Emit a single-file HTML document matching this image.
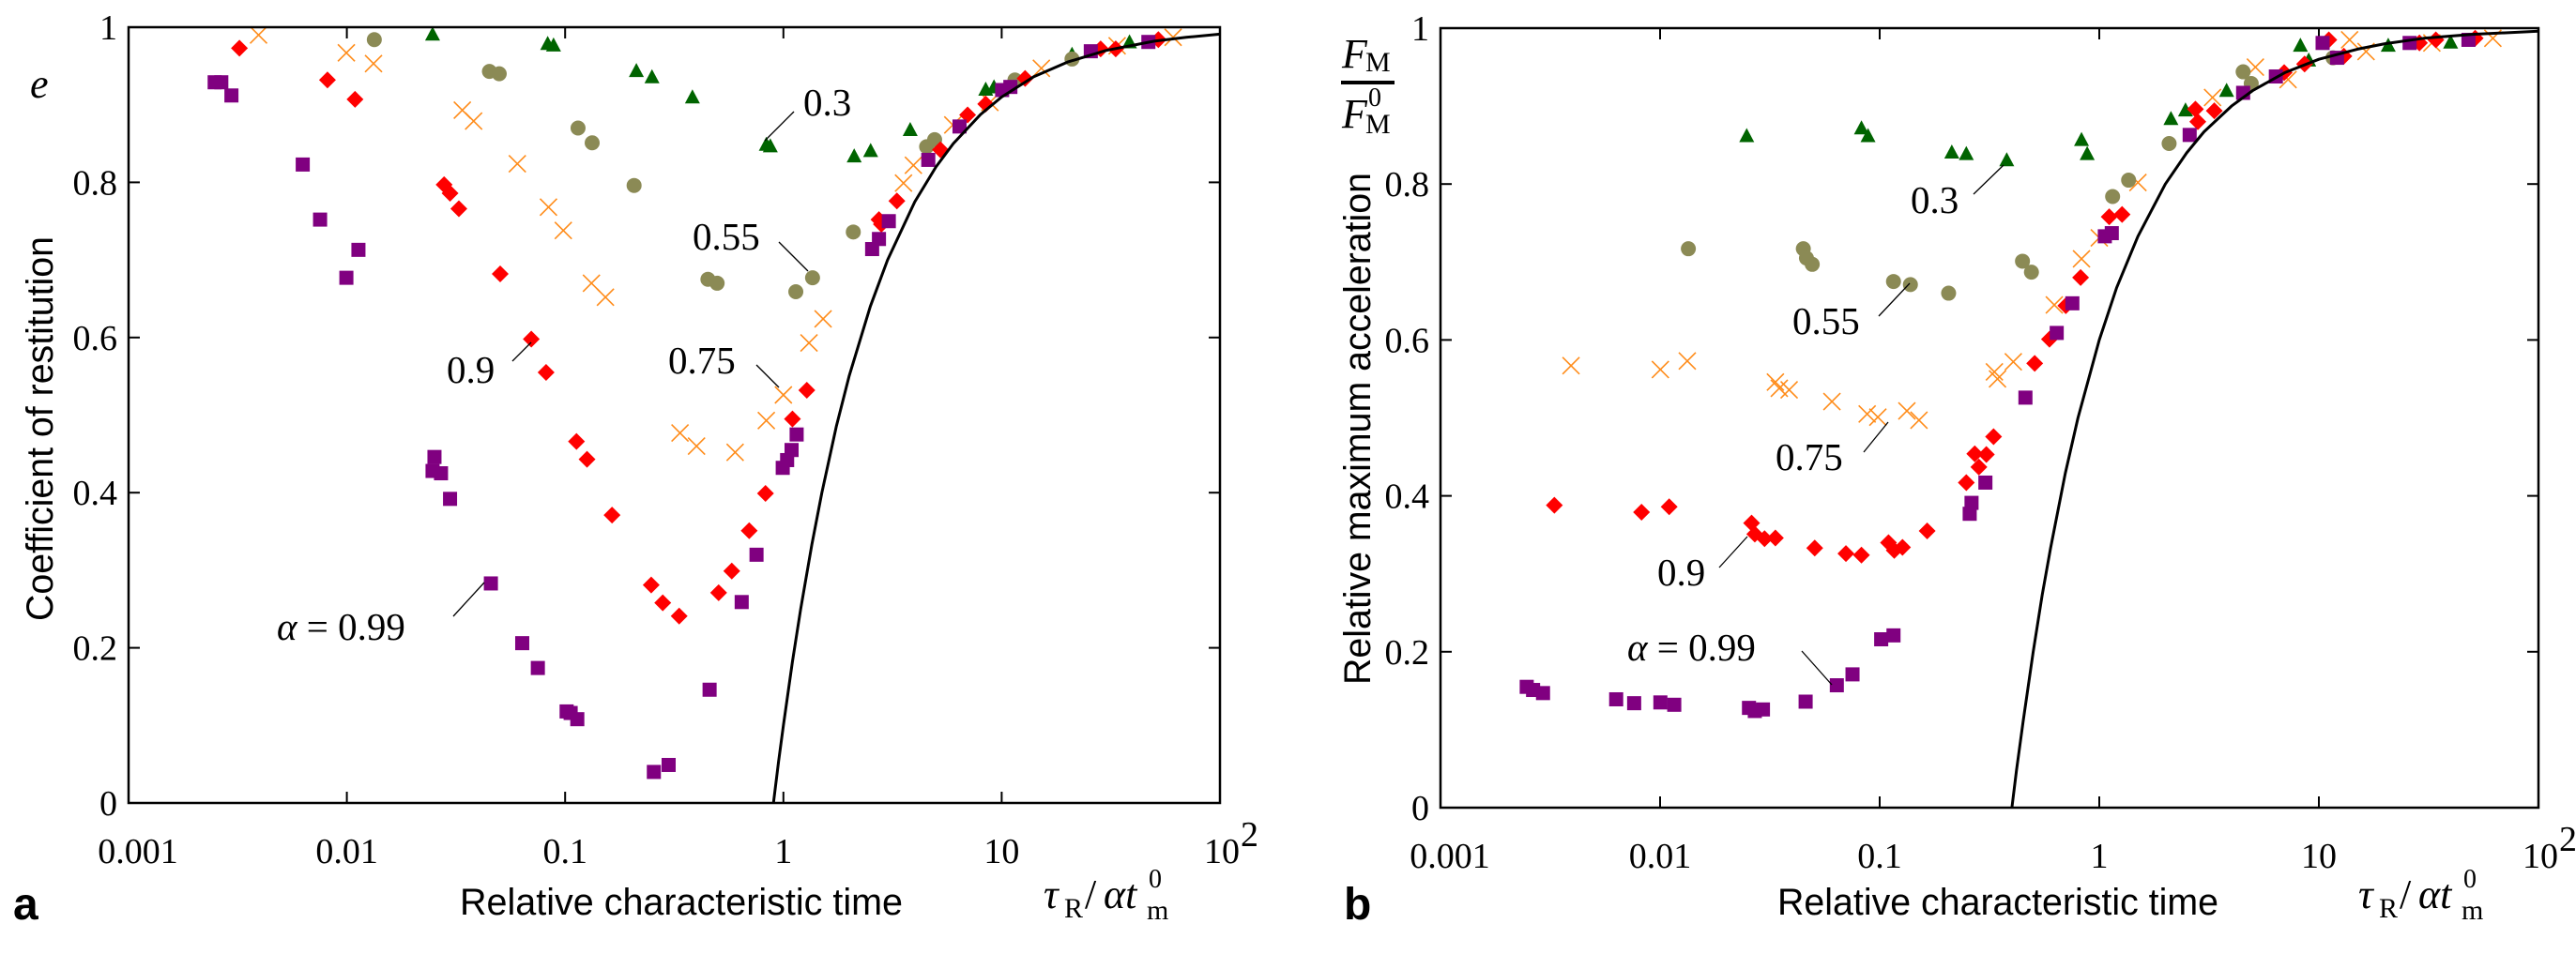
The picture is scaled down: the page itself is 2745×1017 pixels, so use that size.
<!DOCTYPE html>
<html><head><meta charset="utf-8"><style>
html,body{margin:0;padding:0;background:#fff;}
svg{display:block;}
.tick{font-family:"Liberation Serif",serif;font-size:38px;fill:#000;}
.ann{font-family:"Liberation Serif",serif;font-size:41px;fill:#000;}
.title{font-family:"Liberation Sans",sans-serif;font-size:40px;fill:#000;}
.math{font-family:"Liberation Serif",serif;fill:#000;}
</style></head><body>
<svg id="fig" width="2745" height="1017" viewBox="0 0 2745 1017" xmlns="http://www.w3.org/2000/svg">
<rect x="0" y="0" width="2745" height="1017" fill="#fff"/>
<g id="panelA"></g>
<g id="panelB"></g>
<text class="title" x="14" y="980" style="font-weight:bold;font-size:48px">a</text>
<text class="title" x="1432" y="980" style="font-weight:bold;font-size:48px">b</text>
<text class="title" x="490" y="975" textLength="472" lengthAdjust="spacingAndGlyphs">Relative characteristic time</text>
<text class="title" x="1894" y="975" textLength="470" lengthAdjust="spacingAndGlyphs">Relative characteristic time</text>
<text class="title" transform="translate(56,662) rotate(-90)" textLength="410" lengthAdjust="spacingAndGlyphs">Coefficient of restitution</text>
<text class="title" transform="translate(1460,730) rotate(-90)" textLength="546" lengthAdjust="spacingAndGlyphs">Relative maximum acceleration</text>
<text class="math" x="32" y="104" style="font-style:italic;font-size:44px">e</text>
<g>
<text class="math" x="1430" y="72" style="font-size:44px;font-style:italic">F</text>
<text class="math" x="1455" y="76" style="font-size:30px">M</text>
<rect x="1429" y="86" width="57" height="4" fill="#000"/>
<text class="math" x="1430" y="136" style="font-size:44px;font-style:italic">F</text>
<text class="math" x="1455" y="142" style="font-size:30px">M</text>
<text class="math" x="1458" y="113" style="font-size:28px">0</text>
</g>
<g>
<text class="math" x="1112" y="968" style="font-size:44px;font-style:italic">τ</text>
<text class="math" x="1134" y="978" style="font-size:30px">R</text>
<text class="math" x="1156" y="968" style="font-size:44px">/</text>
<text class="math" x="1176" y="968" style="font-size:44px;font-style:italic">αt</text>
<text class="math" x="1222" y="980" style="font-size:30px">m</text>
<text class="math" x="1224" y="946" style="font-size:28px">0</text>
</g>
<g>
<text class="math" x="2513" y="968" style="font-size:44px;font-style:italic">τ</text>
<text class="math" x="2535" y="978" style="font-size:30px">R</text>
<text class="math" x="2557" y="968" style="font-size:44px">/</text>
<text class="math" x="2577" y="968" style="font-size:44px;font-style:italic">αt</text>
<text class="math" x="2623" y="980" style="font-size:30px">m</text>
<text class="math" x="2625" y="946" style="font-size:28px">0</text>
</g>
</svg>
<script>
const aPurpleX=[0.00248,0.00266,0.00296,0.00628,0.00754,0.00995,0.0113,0.0252,0.0247,0.027,0.0297,0.0457,0.0636,0.075,0.1016,0.106,0.1137,0.255,0.298,0.459,0.644,0.753,0.993,1.04,1.09,1.15,2.55,2.74,3.04,4.61,6.41,10.05,10.96,25.6,47];
const aPurpleY=[0.929,0.929,0.912,0.823,0.752,0.677,0.713,0.446,0.428,0.425,0.392,0.283,0.206,0.174,0.118,0.116,0.108,0.040,0.049,0.146,0.259,0.320,0.432,0.442,0.455,0.475,0.714,0.727,0.750,0.829,0.872,0.919,0.923,0.969,0.981];
const aRedX=[0.00322,0.00815,0.0109,0.0279,0.0297,0.0326,0.0504,0.070,0.0818,0.1127,0.126,0.164,0.248,0.280,0.333,0.505,0.580,0.697,0.828,1.10,1.28,2.74,2.81,3.31,5.24,6.98,8.45,12.8,28.4,33.3,52.2];
const aRedY=[0.973,0.932,0.907,0.797,0.786,0.766,0.682,0.598,0.555,0.466,0.443,0.371,0.281,0.258,0.241,0.271,0.299,0.351,0.399,0.495,0.532,0.752,0.746,0.776,0.842,0.887,0.901,0.934,0.972,0.972,0.984];
const aOrangeX=[0.00394,0.00995,0.01325,0.0338,0.0381,0.0604,0.0839,0.0981,0.132,0.153,0.336,0.400,0.601,0.835,1.00,1.31,1.52,3.55,3.94,5.97,8.83,15.2,33.8,61];
const aOrangeY=[0.990,0.967,0.953,0.893,0.879,0.824,0.768,0.738,0.670,0.652,0.477,0.460,0.452,0.493,0.526,0.593,0.624,0.799,0.822,0.874,0.903,0.947,0.976,0.987];
const aOliveX=[0.01336,0.045,0.0499,0.1146,0.133,0.207,0.451,0.497,1.14,1.36,2.09,4.53,4.93,11.5,21];
const aOliveY=[0.984,0.943,0.940,0.870,0.851,0.796,0.675,0.670,0.659,0.677,0.736,0.846,0.855,0.932,0.959];
const aGreenX=[0.0247,0.0832,0.0885,0.212,0.250,0.383,0.835,0.871,2.11,2.51,3.81,8.45,9.22,21,38.5];
const aGreenY=[0.990,0.978,0.976,0.943,0.935,0.909,0.848,0.846,0.833,0.840,0.867,0.919,0.922,0.964,0.980];
const aCurveX=[0.9,0.95,1,1.1,1.2,1.35,1.5,1.75,2,2.5,3,4,5,6,8,10,14,20,30,50,70,100];
const aCurveY=[0,0.053,0.1,0.182,0.25,0.333,0.4,0.486,0.55,0.64,0.7,0.775,0.82,0.85,0.8875,0.91,0.936,0.955,0.97,0.982,0.987,0.991];
const bPurpleX=[0.00247,0.00264,0.00293,0.00631,0.00762,0.01003,0.0116,0.0254,0.027,0.0294,0.046,0.0638,0.0752,0.1016,0.1156,0.257,0.262,0.303,0.461,0.640,0.754,1.06,1.14,2.58,4.52,6.37,10.4,12.1,25.9,48];
const bPurpleY=[0.155,0.151,0.147,0.139,0.134,0.135,0.132,0.128,0.124,0.126,0.136,0.157,0.171,0.216,0.221,0.377,0.391,0.417,0.526,0.609,0.647,0.733,0.737,0.863,0.917,0.938,0.981,0.962,0.981,0.985];
const bRedX=[0.0033,0.00823,0.0110,0.0261,0.027,0.0299,0.0335,0.0506,0.0702,0.0826,0.1097,0.1165,0.127,0.1645,0.248,0.271,0.283,0.306,0.330,0.508,0.593,0.704,0.822,1.11,1.27,2.74,2.81,3.34,6.95,8.61,11.1,13.0,28.7,34.1,51.5];
const bRedY=[0.388,0.379,0.386,0.365,0.351,0.345,0.346,0.333,0.326,0.324,0.340,0.330,0.334,0.355,0.417,0.454,0.437,0.453,0.476,0.570,0.601,0.644,0.680,0.758,0.761,0.896,0.880,0.894,0.943,0.954,0.985,0.964,0.981,0.985,0.987];
const bOrangeX=[0.00393,0.01003,0.0133,0.0335,0.0349,0.0387,0.0606,0.0877,0.0981,0.133,0.151,0.333,0.344,0.406,0.624,0.830,1.00,1.50,3.28,5.14,7.24,13.8,16.4,32.7,62];
const bOrangeY=[0.567,0.562,0.573,0.546,0.538,0.536,0.521,0.505,0.501,0.509,0.497,0.559,0.550,0.572,0.645,0.704,0.731,0.802,0.911,0.950,0.934,0.985,0.970,0.981,0.987];
const bOliveX=[0.01345,0.0449,0.0464,0.0493,0.1156,0.138,0.206,0.447,0.491,1.15,1.36,2.08,4.52,4.92,11.6];
const bOliveY=[0.717,0.717,0.705,0.697,0.675,0.671,0.660,0.701,0.687,0.784,0.805,0.852,0.944,0.929,0.962];
const bGreenX=[0.0248,0.0826,0.0885,0.213,0.248,0.379,0.830,0.881,2.12,2.47,3.80,8.24,8.99,20.7,39.8];
const bGreenY=[0.861,0.871,0.861,0.840,0.838,0.830,0.856,0.838,0.883,0.894,0.919,0.977,0.958,0.977,0.981];
const bCurveX=[0.4,0.42,0.45,0.5,0.55,0.6,0.7,0.8,1,1.2,1.5,2,2.5,3,4,5,7,10,15,20,30,50,100];
const bCurveY=[0,0.048,0.111,0.2,0.273,0.333,0.429,0.5,0.6,0.667,0.733,0.8,0.84,0.867,0.9,0.92,0.943,0.96,0.973,0.98,0.987,0.992,0.996];
const xTickVals=[0.001,0.01,0.1,1,10,100];
const xTickLabels=["0.001","0.01","0.1","1","10","10"];
const yTickVals=[0,0.2,0.4,0.6,0.8,1];
const yTickLabels=["0","0.2","0.4","0.6","0.8","1"];

const NS="http://www.w3.org/2000/svg";
function mk(parent,tag,attrs){const e=document.createElementNS(NS,tag);for(const k in attrs)e.setAttribute(k,attrs[k]);parent.appendChild(e);return e;}

function drawPanel(g,P,series,curveX,curveY,anns,suffix){
  const sx=v=>P.l+(Math.log10(v)+3)/5*(P.r-P.l);
  const sy=v=>P.b-v*(P.b-P.t);
  xTickVals.forEach((v,i)=>{
    const x=sx(v);
    const t1=mk(g,'line',{x1:x,y1:P.b,x2:x,y2:P.b-12,stroke:'#000','stroke-width':2});
    
    
    const t2=mk(g,'line',{x1:x,y1:P.t,x2:x,y2:P.t+12,stroke:'#000','stroke-width':2});
    
    
    const lb=mk(g,'text',{x:x+(i==0?10:(i==5?2:0)),y:P.b+64,'text-anchor':'middle',class:'tick'});
    lb.textContent=xTickLabels[i];
    
    
    if(i==5){
      const sp=mk(g,'text',{x:x+22,y:P.b+46,class:'tick','font-size':'26'});
      sp.textContent='2';
      
      
    }
  });
  yTickVals.forEach((v,i)=>{
    const y=sy(v);
    const t1=mk(g,'line',{x1:P.l,y1:y,x2:P.l+12,y2:y,stroke:'#000','stroke-width':2});
    
    
    const t2=mk(g,'line',{x1:P.r,y1:y,x2:P.r-12,y2:y,stroke:'#000','stroke-width':2});
    
    
    const lb=mk(g,'text',{x:P.l-12,y:y+13,'text-anchor':'end',class:'tick'});
    lb.textContent=yTickLabels[i];
    
    
  });
  series.forEach(s=>{
    const sg=mk(g,'g',{});
    
    
    s.x.forEach((xv,i)=>{
      const cx=sx(xv),cy=sy(s.y[i]);let m;
      if(s.shape==='square'){m=mk(sg,'rect',{x:cx-7.5,y:cy-7.5,width:15,height:15,fill:s.color});}
      else if(s.shape==='diamond'){m=mk(sg,'polygon',{points:`${cx},${cy-9} ${cx+9},${cy} ${cx},${cy+9} ${cx-9},${cy}`,fill:s.color});}
      else if(s.shape==='circle'){m=mk(sg,'ellipse',{cx:cx,cy:cy,rx:8,ry:8,fill:s.color});}
      else if(s.shape==='tri'){m=mk(sg,'polygon',{points:`${cx},${cy-9} ${cx+8},${cy+6} ${cx-8},${cy+6}`,fill:s.color});}
      else {m=mk(sg,'path',{d:`M${cx-9},${cy-9}L${cx+9},${cy+9}M${cx+9},${cy-9}L${cx-9},${cy+9}`,stroke:s.color,'stroke-width':1.6,fill:'none'});}
      
      
    });
  });
  const d=curveX.map((v,i)=>(i?'L':'M')+sx(v).toFixed(1)+','+sy(curveY[i]).toFixed(1)).join('');
  const c=mk(g,'path',{d:d,stroke:'#000','stroke-width':3,fill:'none','stroke-linejoin':'round'});
  
  
  const f=mk(g,'rect',{x:P.l,y:P.t,width:P.r-P.l,height:P.b-P.t,fill:'none',stroke:'#000','stroke-width':2.5});
  
  
  anns.forEach(a=>{
    const l=mk(g,'line',{x1:a.l[0],y1:a.l[1],x2:a.l[2],y2:a.l[3],stroke:'#000','stroke-width':1.3});
    
    
    const t=mk(g,'text',{x:a.x,y:a.y,class:'ann'});
    if(a.alpha){const ts=mk(t,'tspan',{'font-style':'italic'});ts.textContent='α';const t2=mk(t,'tspan',{});t2.textContent=' = '+a.t;}
    else t.textContent=a.t;
    
    
  });
}
function ser(name,shape,color,x,y){return {name,shape,color,x,y};}
drawPanel(document.getElementById('panelA'),{l:137,r:1300,t:29,b:856},[
  ser('0.75','x','#ff8c1a',aOrangeX,aOrangeY),
  ser('0.3','tri','#006400',aGreenX,aGreenY),
  ser('0.55','circle','#8b8a55',aOliveX,aOliveY),
  ser('0.9','diamond','#ff0000',aRedX,aRedY),
  ser('0.99','square','#800080',aPurpleX,aPurpleY)],aCurveX,aCurveY,[
  {t:'0.3',x:856,y:123,l:[846,119,815,150]},
  {t:'0.55',x:738,y:266,l:[830,258,861,289]},
  {t:'0.9',x:476,y:408,l:[546,385,566,365]},
  {t:'0.75',x:712,y:398,l:[806,389,830,413]},
  {t:'0.99',alpha:true,x:295,y:682,l:[483,657,516,621]}],'-a');
drawPanel(document.getElementById('panelB'),{l:1535,r:2705,t:30,b:861},[
  ser('0.75','x','#ff8c1a',bOrangeX,bOrangeY),
  ser('0.3','tri','#006400',bGreenX,bGreenY),
  ser('0.55','circle','#8b8a55',bOliveX,bOliveY),
  ser('0.9','diamond','#ff0000',bRedX,bRedY),
  ser('0.99','square','#800080',bPurpleX,bPurpleY)],bCurveX,bCurveY,[
  {t:'0.3',x:2036,y:227,l:[2103,207,2135,176]},
  {t:'0.55',x:1910,y:356,l:[2002,337,2035,302]},
  {t:'0.75',x:1892,y:501,l:[1986,482,2012,450]},
  {t:'0.9',x:1766,y:624,l:[1832,605,1862,572]},
  {t:'0.99',alpha:true,x:1734,y:704,l:[1920,694,1952,730]}],'-b');
</script>
</body></html>
